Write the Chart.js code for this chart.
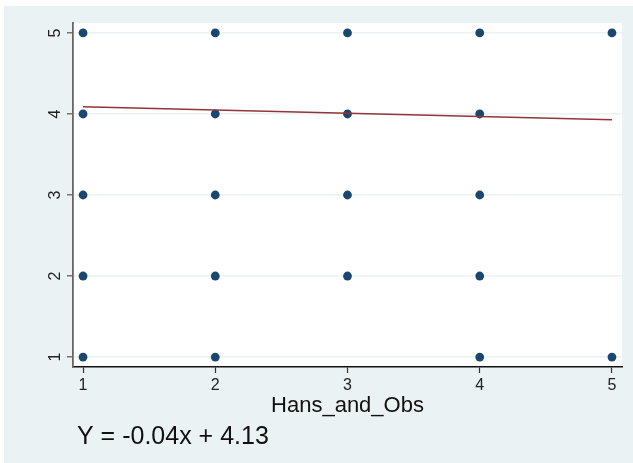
<!DOCTYPE html>
<html>
<head>
<meta charset="utf-8">
<script src="https://cdn.jsdelivr.net/npm/chart.js@4/dist/chart.umd.min.js"></script>
<style>
  html, body { margin: 0; padding: 0; background: #fff; }
  canvas { display: block; }
</style>
</head>
<body>
<canvas id="chart" width="633" height="463"></canvas>
<script>
// Observations (x = Hans_and_Obs, y = response)
const xValues = [1, 1, 1, 1, 1, 2, 2, 2, 2, 2, 3, 3, 3, 3, 4, 4, 4, 4, 4, 5, 5];
const yValues = [5, 4, 3, 2, 1, 5, 4, 3, 2, 1, 5, 4, 3, 2, 5, 4, 3, 2, 1, 5, 1];

// Axis ticks
const xTicks = [1, 2, 3, 4, 5];
const yTicks = [1, 2, 3, 4, 5];
const xTitle = 'Hans_and_Obs';

// Linear fit
const fitSlope = -0.04;
const fitIntercept = 4.13;
const fitRange = [1, 5];

const FONT = '"Liberation Sans", Arial, sans-serif';
const BG = '#eaf2f3';

const scatterPoints = xValues.map((x, i) => ({ x, y: yValues[i] }));
const fitPoints = fitRange.map(x => ({ x, y: fitSlope * x + fitIntercept }));
const equationText = 'Y = ' + fitSlope.toFixed(2) + 'x + ' + fitIntercept.toFixed(2);

const backdrop = {
  id: 'backdrop',
  beforeDraw(chart) {
    const { ctx, chartArea: a, width, height } = chart;
    ctx.save();
    ctx.fillStyle = '#ffffff';
    ctx.fillRect(0, 0, width, height);
    ctx.fillStyle = BG;
    ctx.fillRect(4, 6, width - 4, height - 6);
    ctx.fillStyle = '#ffffff';
    ctx.fillRect(a.left, a.top, a.right - a.left, a.bottom - a.top);
    ctx.restore();
  }
};

const equationNote = {
  id: 'equationNote',
  afterDraw(chart) {
    const { ctx } = chart;
    ctx.save();
    ctx.font = '25px ' + FONT;
    ctx.fillStyle = '#111';
    ctx.textBaseline = 'alphabetic';
    ctx.textAlign = 'left';
    ctx.fillText(equationText, 77, 443.5);
    ctx.restore();
  }
};

new Chart(document.getElementById('chart'), {
  type: 'scatter',
  data: {
    datasets: [
      {
        label: 'Fitted values',
        data: fitPoints,
        showLine: true,
        borderColor: '#90353b',
        borderWidth: 1.5,
        pointRadius: 0,
        fill: false,
        order: 0
      },
      {
        label: 'Observations',
        data: scatterPoints,
        backgroundColor: '#1a476f',
        borderColor: '#1a476f',
        borderWidth: 0,
        pointRadius: 4.4,
        order: 1
      }
    ]
  },
  options: {
    responsive: false,
    animation: false,
    devicePixelRatio: 1,
    layout: { padding: { top: 23, right: 11, left: 0, bottom: 0 } },
    plugins: {
      legend: { display: false },
      tooltip: { enabled: false }
    },
    scales: {
      x: {
        type: 'linear',
        min: 0.924,
        max: 5.076,
        afterBuildTicks(scale) { scale.ticks = xTicks.map(v => ({ value: v })); },
        afterFit(scale) { scale.height = 96; },
        grid: {
          drawOnChartArea: false,
          drawTicks: true,
          tickLength: 6,
          tickColor: '#333',
          tickWidth: 1.2
        },
        border: { display: true, color: '#111', width: 1.5 },
        ticks: {
          color: '#222',
          padding: 3,
          font: { family: FONT, size: 16 },
          maxRotation: 0,
          callback: v => String(v)
        },
        title: {
          display: true,
          text: xTitle,
          color: '#111',
          font: { family: FONT, size: 22 },
          padding: { top: 0, bottom: 44 }
        }
      },
      y: {
        type: 'linear',
        min: 0.877,
        max: 5.123,
        afterBuildTicks(scale) { scale.ticks = yTicks.map(v => ({ value: v })); },
        afterFit(scale) { scale.width = 73; },
        grid: {
          color: BG,
          lineWidth: 1.6,
          drawTicks: true,
          tickLength: 6,
          tickColor: '#555',
          tickWidth: 1.2
        },
        border: { display: true, color: '#666', width: 1.8 },
        ticks: {
          color: '#222',
          padding: 7,
          crossAlign: 'center',
          minRotation: 90,
          maxRotation: 90,
          font: { family: FONT, size: 16 },
          callback: v => String(v)
        }
      }
    }
  },
  plugins: [backdrop, equationNote]
});
</script>
</body>
</html>
